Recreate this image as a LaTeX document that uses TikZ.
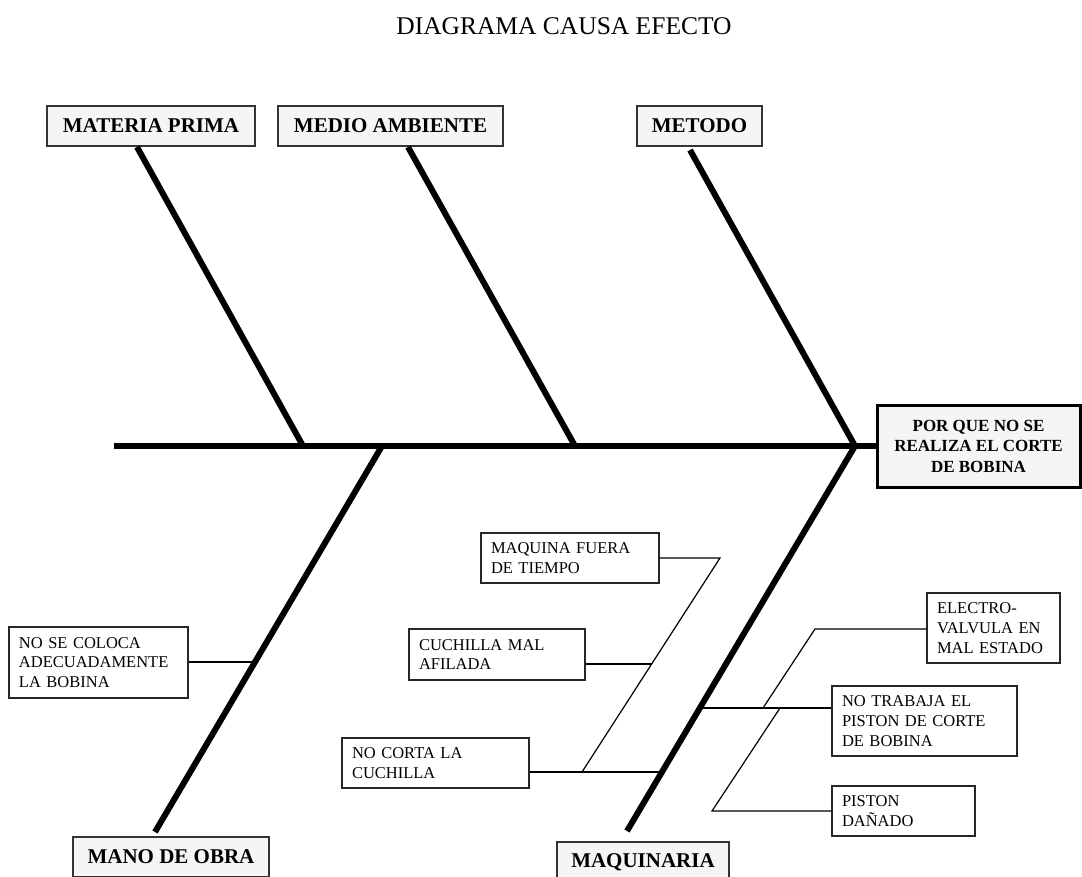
\documentclass[tikz,border=0pt]{standalone}
\usepackage{fontspec}
\setmainfont{Liberation Serif}
\begin{document}
\begin{tikzpicture}[x=1pt,y=-1pt,
  catbox/.style={draw=black!80, line width=1.3pt, fill=black!4, inner sep=0pt, font=\fontsize{21}{25}\selectfont\bfseries},
  effbox/.style={draw=black, line width=3pt, fill=black!4, inner sep=0pt, align=center, font=\fontsize{17}{20.5}\selectfont\bfseries},
  causebox/.style={draw=black!85, line width=1.2pt, fill=white, inner xsep=10pt, inner ysep=0pt, align=left, font=\fontsize{16.5}{19.7}\selectfont},
  bone/.style={line width=6pt},
  twig/.style={line width=1.2pt}]
\useasboundingbox[fill=white] (0,0) rectangle (1082,876);

% title
\node[anchor=base, font=\fontsize{25.5}{30}\selectfont] (title) at (564,34) {DIAGRAMA CAUSA EFECTO};

% category boxes
\node[catbox, minimum width=208, minimum height=40] (mp) at (151,126) {MATERIA PRIMA};
\node[catbox, minimum width=225, minimum height=40] (ma) at (390.5,126) {MEDIO AMBIENTE};
\node[catbox, minimum width=125, minimum height=40] (me) at (699.5,126) {METODO};
\node[catbox, minimum width=196, minimum height=40] (mo) at (171,857) {MANO DE OBRA};
\node[catbox, minimum width=172, minimum height=40] (mq) at (643,862) {MAQUINARIA};

% effect
\node[effbox, minimum width=203, minimum height=82] (eff) at (978.5,446) {POR QUE NO SE\\REALIZA EL CORTE\\DE BOBINA};

% cause boxes
\node[causebox, text width=158, minimum height=50] (mf) at (570,558) {MAQUINA FUERA\\DE TIEMPO};
\node[causebox, text width=156, minimum height=51] (cm) at (497,654.5) {CUCHILLA MAL\\AFILADA};
\node[causebox, text width=167, minimum height=50] (nc) at (435.5,763) {NO CORTA LA\\CUCHILLA};
\node[causebox, text width=159, minimum height=71] (ns) at (98.5,662.5) {NO SE COLOCA\\ADECUADAMENTE\\LA BOBINA};
\node[causebox, text width=113, minimum height=70] (ev) at (993.5,628) {ELECTRO-\\VALVULA EN\\MAL ESTADO};
\node[causebox, text width=165, minimum height=70] (nt) at (924.5,721) {NO TRABAJA EL\\PISTON DE CORTE\\DE BOBINA};
\node[causebox, text width=123, minimum height=50] (pd) at (903.5,811) {PISTON\\DAÑADO};

% skeleton coordinates
\coordinate (sl) at (114,446);
\coordinate (head) at (855,446);
\coordinate (mpB) at (137,147);
\coordinate (mpJ) at (303,446);
\coordinate (maB) at (408,147);
\coordinate (maJ) at (575,446);
\coordinate (meB) at (690,150);
\coordinate (moJ) at (382,446);
\coordinate (moB) at (155,832);
\coordinate (mqB) at (627,831);

% spine and bones
\draw[bone] (sl) -- (eff.west);
\draw[bone] (mpB) -- (mpJ);
\draw[bone] (maB) -- (maJ);
\draw[bone] (meB) -- (head);
\draw[bone] (moJ) -- (moB);
\draw[bone] (head) -- (mqB);

% mano de obra twig
\coordinate (nsJ) at (254,662);
\draw[twig] (ns.east |- nsJ) -- (nsJ);

% maquinaria: no corta la cuchilla branch
\coordinate (ncJ) at (662,772);
\coordinate (ncD) at (582,772);
\coordinate (mfT) at (720,558);
\coordinate (cmJ) at (651.6,664);
\draw[twig] (nc.east |- ncJ) -- (ncJ);
\draw[twig] (ncD) -- (mfT) -- (mf.east |- mfT);
\draw[twig] (cm.east |- cmJ) -- (cmJ);

% maquinaria: no trabaja el piston branch
\coordinate (ntJ) at (700,708);
\coordinate (evD) at (763,708);
\coordinate (evT) at (815,629);
\coordinate (pdU) at (780,708);
\coordinate (pdT) at (712,811);
\draw[twig] (ntJ) -- (nt.west |- ntJ);
\draw[twig] (evD) -- (evT) -- (ev.west |- evT);
\draw[twig] (pdU) -- (pdT) -- (pd.west |- pdT);
\end{tikzpicture}
\end{document}
